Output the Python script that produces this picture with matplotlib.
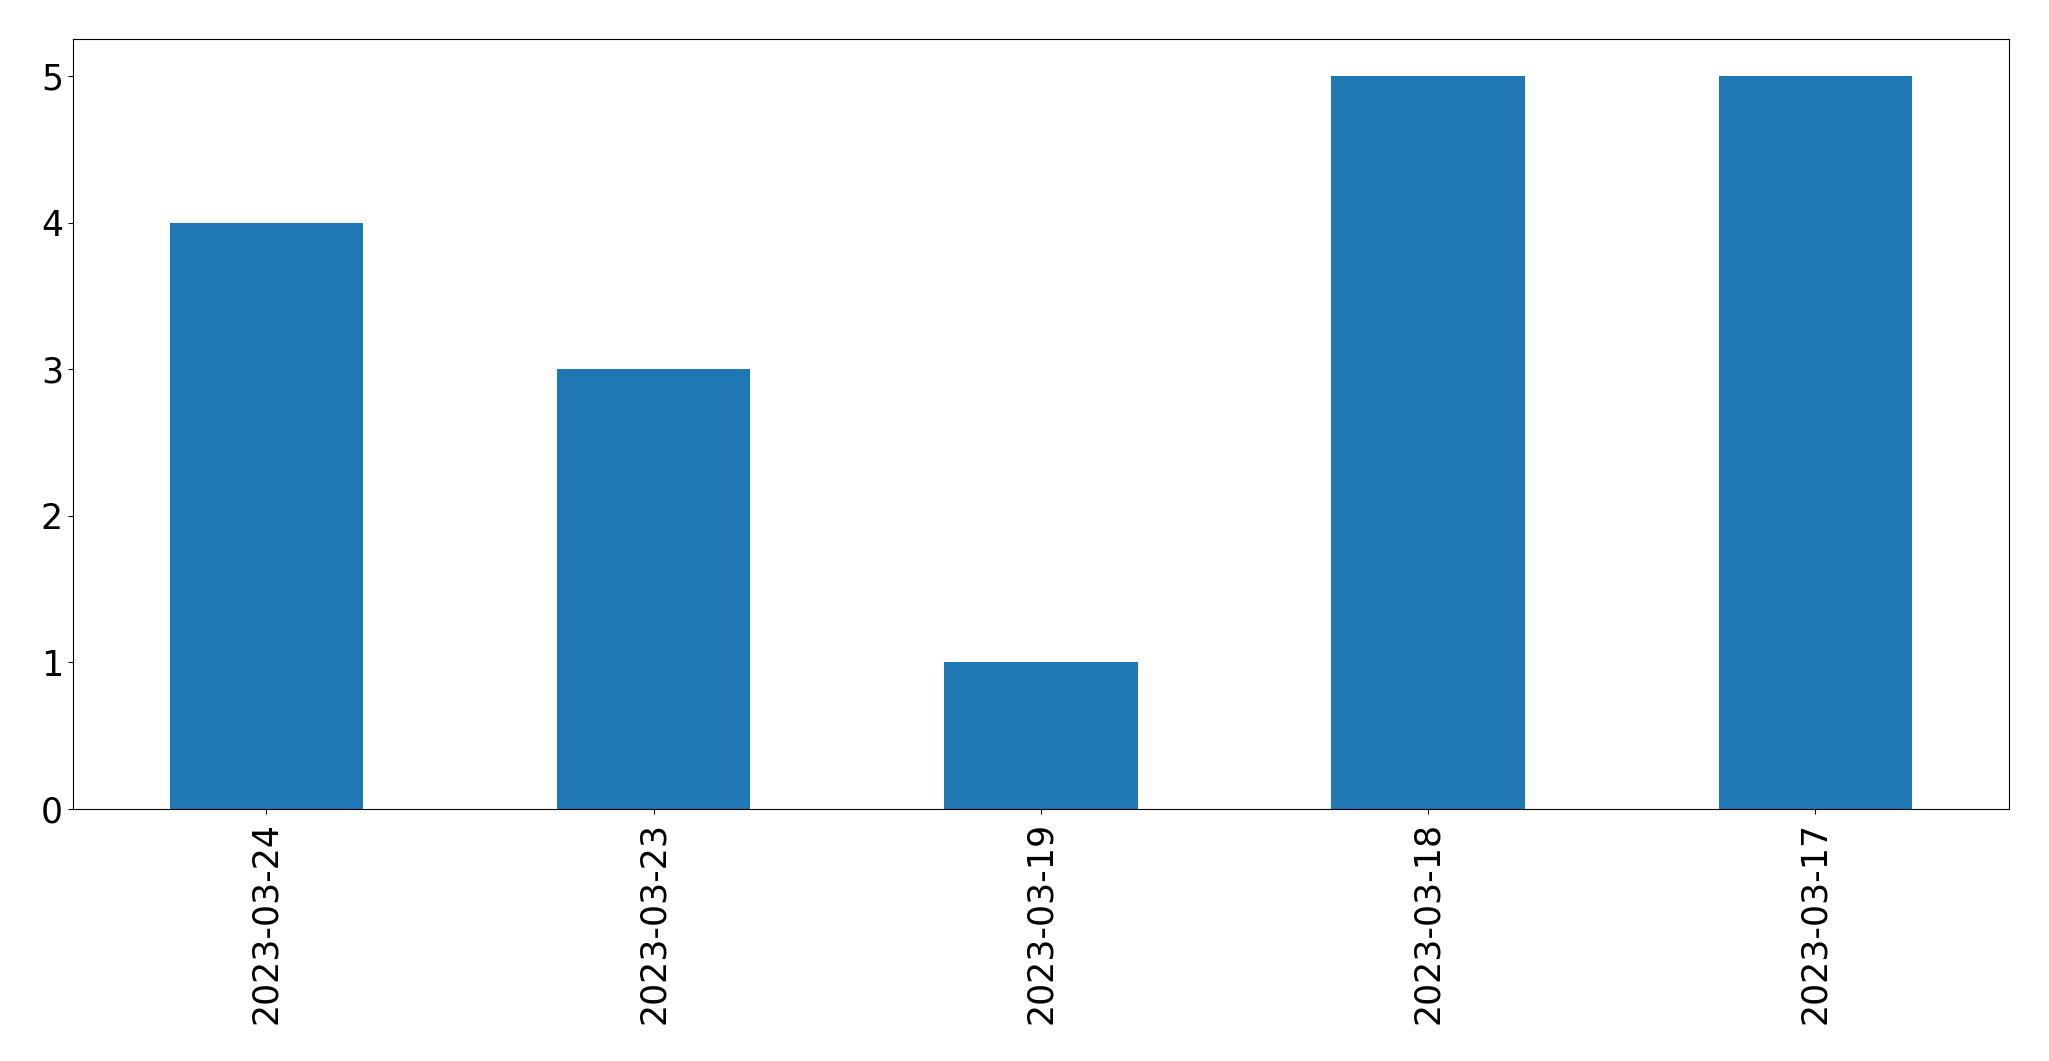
import matplotlib
matplotlib.use("Agg")
import matplotlib.pyplot as plt

dates = ["2023-03-24", "2023-03-23", "2023-03-19", "2023-03-18", "2023-03-17"]
counts = [4, 3, 1, 5, 5]

fig = plt.figure(figsize=(20.49, 10.61), dpi=100)
ax = fig.add_axes([72.7/2049, 1-809/1061, (2009-72.7)/2049, (809-39.3)/1061])
x = list(range(len(dates)))
ax.bar(x, counts, width=0.5, color="#1f77b4")
ax.set_xlim(-0.5, len(dates)-0.5)
ax.set_ylim(0, 5.25)
ax.set_xticks(x)
ax.set_xticklabels(dates, rotation=90, fontsize=25)
ax.tick_params(axis="x", pad=6)
ax.tick_params(axis="y", labelsize=25)
fig.savefig("out.png", dpi=100)
